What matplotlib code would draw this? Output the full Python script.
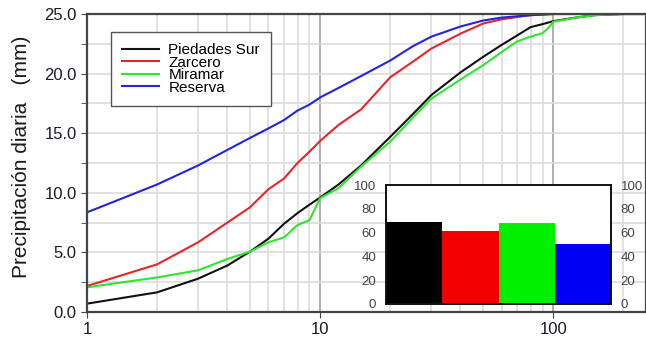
import matplotlib
matplotlib.use("Agg")
from matplotlib import pyplot as plt
from matplotlib.ticker import FixedLocator, NullFormatter, MultipleLocator, FormatStrFormatter

plt.rcParams['font.family'] = ['Liberation Sans', 'DejaVu Sans']

# curve data (x = duration on log axis, y = precipitation mm)
x_black = [1, 2, 3, 4, 5, 6, 7, 8, 9, 10, 12, 15, 20, 25, 30, 40, 50, 60, 70, 80, 90, 100, 125, 150, 200, 250]
y_black = [0.7, 1.65, 2.8, 3.9, 5.06, 6.15, 7.4, 8.3, 9.0, 9.6, 10.7, 12.3, 14.7, 16.6, 18.2, 20.1, 21.4, 22.4,
           23.2, 23.9, 24.15, 24.4, 24.7, 24.9, 25.0, 25.0]

x_green = [1, 2, 3, 4, 5, 6, 7, 8, 9, 10, 12, 15, 20, 25, 30, 40, 50, 60, 70, 80, 90, 95, 100, 125, 150, 200, 250]
y_green = [2.07, 2.9, 3.5, 4.45, 5.06, 5.85, 6.25, 7.3, 7.7, 9.55, 10.4, 12.2, 14.3, 16.3, 17.9, 19.5, 20.7, 21.8,
           22.7, 23.1, 23.4, 23.8, 24.35, 24.7, 24.9, 25.0, 25.0]

x_red = [1, 2, 3, 4, 5, 6, 7, 8, 9, 10, 12, 15, 20, 25, 30, 40, 50, 60, 70, 80, 100, 250]
y_red = [2.18, 4.0, 5.85, 7.5, 8.78, 10.3, 11.2, 12.5, 13.45, 14.35, 15.7, 17.0, 19.7, 21.0, 22.1, 23.35, 24.2,
         24.55, 24.75, 24.9, 25.0, 25.0]

x_blue = [1, 2, 3, 4, 5, 6, 7, 8, 9, 10, 12, 15, 20, 25, 30, 40, 50, 60, 80, 100, 250]
y_blue = [8.36, 10.7, 12.3, 13.6, 14.6, 15.4, 16.1, 16.9, 17.4, 18.0, 18.8, 19.8, 21.1, 22.3, 23.1, 23.95, 24.45,
          24.7, 24.9, 25.0, 25.0]

names = ['Piedades Sur', 'Zarcero', 'Miramar', 'Reserva']
bar_vals = [68.5, 61.6, 67.7, 50.4]

fig = plt.figure(figsize=(6.46, 3.38), dpi=100)
ax = fig.add_axes([87/646, 26/338, 559/646, 298/338])

ax.set_xscale('log')
ax.set_xlim(1, 250)
ax.set_ylim(0, 25)

ax.plot(x_black, y_black, color='#111111', lw=1.5, label=names[0])
ax.plot(x_red, y_red, color='#e8262a', lw=1.5, label=names[1])
ax.plot(x_green, y_green, color='#2ee62e', lw=1.5, label=names[2])
ax.plot(x_blue, y_blue, color='#2424e0', lw=1.5, label=names[3])

# grid
minor_x = [v * d for d in (1, 10, 100) for v in range(2, 10) if v * d < 250]
ax.xaxis.set_major_locator(FixedLocator([1, 10, 100]))
ax.xaxis.set_minor_locator(FixedLocator(minor_x))
ax.xaxis.set_minor_formatter(NullFormatter())
ax.set_xticklabels(['1', '10', '100'])
ax.yaxis.set_major_locator(MultipleLocator(5))
ax.yaxis.set_minor_locator(MultipleLocator(2.5))
ax.yaxis.set_major_formatter(FormatStrFormatter('%.1f'))
ax.grid(which='major', axis='x', color='#a8a8a8', lw=1.3, zorder=0)
ax.grid(which='minor', axis='x', color='#dcdcdc', lw=1.2, zorder=0)
ax.grid(which='both', axis='y', color='#dcdcdc', lw=1.2, zorder=0)
ax.set_axisbelow(True)

ax.tick_params(which='major', labelsize=12, length=4, color='#444444', labelcolor='#1a1a2a')
ax.tick_params(axis='x', which='minor', length=0)
ax.tick_params(axis='y', which='minor', length=4, color='#444444')
for s in ax.spines.values():
    s.set_color('#444444')
    s.set_linewidth(1.6)

ax.set_ylabel('Precipitación diaria   (mm)', fontsize=15, color='#1a1a1a')
ax.yaxis.set_label_coords(-0.100, 0.52)

leg = ax.legend(loc='upper left', bbox_to_anchor=(0.043, 0.94), borderaxespad=0,
                fancybox=False, edgecolor='#555555', framealpha=1, fontsize=11,
                handlelength=2.4, labelspacing=-0.1, borderpad=0.75, handletextpad=0.6)
leg.get_frame().set_linewidth(1.0)

# inset bar chart
ins = fig.add_axes([386/646, 34/338, 225/646, 119/338])
ins.bar(range(len(bar_vals)), bar_vals, width=1.0, color=['#000000', '#f20000', '#00f000', '#0000f5'])
ins.set_xlim(-0.5, 3.5)
ins.set_ylim(0, 100)
ins.set_xticks([])
ins.set_yticks(range(0, 101, 20))
ins.tick_params(axis='y', length=0, pad=7, labelsize=9.5, labelcolor='#444444',
                labelleft=True, labelright=True)
for s in ins.spines.values():
    s.set_color('#111111')
    s.set_linewidth(1.4)

fig.savefig('out.png', dpi=100)
